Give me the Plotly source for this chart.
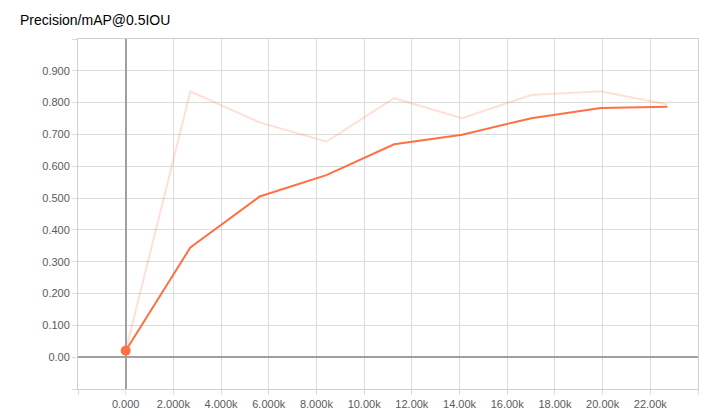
import plotly.graph_objects as go

steps = [0, 2713, 5618, 8415, 11257, 14108, 17011, 19917, 22715]
smoothed = [0.020, 0.345, 0.505, 0.572, 0.669, 0.699, 0.751, 0.783, 0.787]
raw = [0.020, 0.835, 0.738, 0.677, 0.814, 0.751, 0.824, 0.836, 0.794]

x_tickvals = [-2000, 0, 2000, 4000, 6000, 8000, 10000, 12000, 14000, 16000, 18000, 20000, 22000, 24000]
x_ticktext = ["", "0.000", "2.000k", "4.000k", "6.000k", "8.000k", "10.00k", "12.00k",
              "14.00k", "16.00k", "18.00k", "20.00k", "22.00k", ""]
y_tickvals = [-0.1, 0.0, 0.1, 0.2, 0.3, 0.4, 0.5, 0.6, 0.7, 0.8, 0.9, 1.0]
y_ticktext = ["", "0.00", "0.100", "0.200", "0.300", "0.400", "0.500", "0.600",
              "0.700", "0.800", "0.900", ""]

title_text = "Precision/mAP@0.5IOU"

fig = go.Figure()
fig.add_trace(go.Scatter(x=steps, y=raw, mode="lines",
                         line=dict(color="rgba(255,112,67,0.22)", width=2),
                         hoverinfo="skip", showlegend=False))
fig.add_trace(go.Scatter(x=steps, y=smoothed, mode="lines",
                         line=dict(color="#ff7043", width=2),
                         showlegend=False))
fig.add_trace(go.Scatter(x=steps[:1], y=smoothed[:1], mode="markers",
                         marker=dict(color="#ff7043", size=10),
                         showlegend=False))

font_family = "Liberation Sans, Arial, sans-serif"
axis_common = dict(
    showgrid=True, gridcolor="#dcdcdc", gridwidth=1,
    zeroline=True, zerolinecolor="#a0a0a0", zerolinewidth=2,
    ticks="outside", ticklen=5, tickcolor="#dcdcdc",
    showline=True, linecolor="#d0d0d0", linewidth=1, mirror=True,
    fixedrange=True, automargin=False,
)
fig.update_layout(
    width=720, height=416, autosize=False,
    margin=dict(l=78, r=22, t=39, b=27, autoexpand=False),
    paper_bgcolor="white", plot_bgcolor="white",
    font=dict(family=font_family, size=11, color="#5a5a5a"),
    title=dict(text=title_text, x=20/720, xanchor="left", y=1-20/416, yanchor="middle",
               font=dict(family=font_family, size=14, color="#000000")),
    xaxis=dict(range=[-2000, 24000], tickvals=x_tickvals, ticktext=x_ticktext, **axis_common),
    yaxis=dict(range=[-0.1, 1.0], tickvals=y_tickvals, ticktext=y_ticktext, **axis_common),
)

fig.write_html("out.html", config={"displayModeBar": False},
               post_script="document.body.style.margin='0px';")
